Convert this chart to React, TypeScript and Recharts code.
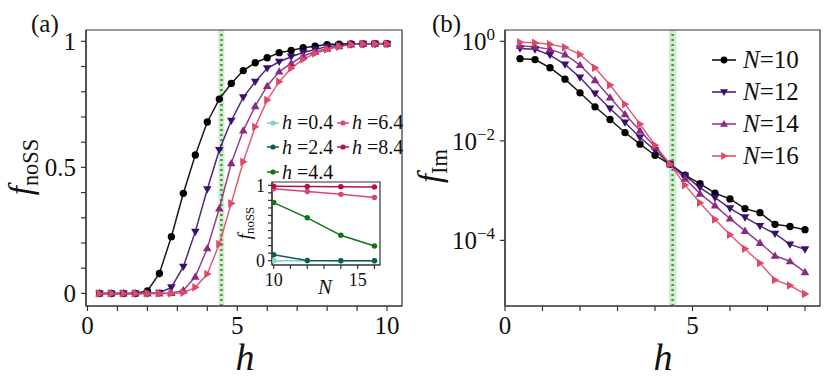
import { LineChart, Line, XAxis, YAxis, ReferenceArea, ReferenceLine } from "recharts";

const FONT = "Liberation Serif";

// panel (a): fraction of non-stationary states vs h
const hA = [0.4, 0.8, 1.2, 1.6, 2.0, 2.4, 2.8, 3.2, 3.6, 4.0, 4.4, 4.8, 5.2, 5.6, 6.0, 6.4, 6.8, 7.2, 7.6, 8.0, 8.4, 8.8, 9.2, 9.6, 10.0];
const noSS10 = [0, 0, 0, 0, 0.01, 0.079, 0.225, 0.397, 0.549, 0.68, 0.771, 0.833, 0.884, 0.915, 0.935, 0.955, 0.964, 0.975, 0.981, 0.987, 0.989, 0.99, 0.99, 0.991, 0.991];
const noSS12 = [0, 0, 0, 0, 0, 0.003, 0.024, 0.106, 0.245, 0.413, 0.569, 0.685, 0.778, 0.84, 0.893, 0.919, 0.939, 0.956, 0.968, 0.979, 0.985, 0.988, 0.99, 0.99, 0.99];
const noSS14 = [0, 0, 0, 0, 0, 0, 0.002, 0.012, 0.066, 0.179, 0.337, 0.516, 0.646, 0.743, 0.823, 0.88, 0.913, 0.942, 0.959, 0.971, 0.981, 0.988, 0.99, 0.99, 0.99];
const noSS16 = [0, 0, 0, 0, 0, 0, 0, 0.003, 0.024, 0.077, 0.196, 0.357, 0.522, 0.661, 0.767, 0.84, 0.893, 0.929, 0.952, 0.968, 0.979, 0.987, 0.989, 0.99, 0.99];

// panel (b): f_Im on log scale
const hB = [0.4, 0.8, 1.2, 1.6, 2.0, 2.4, 2.8, 3.2, 3.6, 4.0, 4.4, 4.8, 5.2, 5.6, 6.0, 6.4, 6.8, 7.2, 7.6, 8.0];
const im10 = [0.448, 0.43, 0.295, 0.174, 0.0925, 0.0484, 0.0269, 0.0147, 0.00857, 0.00514, 0.00339, 0.00204, 0.00138, 8.9e-4, 6.8e-4, 4.35e-4, 3.6e-4, 2.1e-4, 1.9e-4, 1.64e-4];
const im12 = [0.72, 0.69, 0.53, 0.344, 0.188, 0.0897, 0.0448, 0.0234, 0.0117, 0.0065, 0.0034, 0.002, 0.00115, 7.2e-4, 4.4e-4, 2.9e-4, 1.95e-4, 1.36e-4, 8.3e-5, 6.6e-5];
const im14 = [0.805, 0.78, 0.69, 0.547, 0.334, 0.166, 0.0745, 0.0344, 0.0159, 0.0076, 0.0034, 0.00174, 8.7e-4, 5.0e-4, 2.74e-4, 1.55e-4, 8.9e-5, 4.9e-5, 3.8e-5, 2.3e-5];
const im16 = [0.955, 0.94, 0.87, 0.757, 0.547, 0.295, 0.132, 0.0547, 0.0217, 0.0082, 0.0034, 0.00129, 5.7e-4, 2.64e-4, 1.3e-4, 6.8e-5, 3.5e-5, 1.6e-5, 1.24e-5, 8.4e-6];

const sizesN = [10, 12, 14, 16];
const seriesColors = ["#000000", "#3b0f70", "#8c2981", "#de4968"];
const insetH = [0.4, 2.4, 4.4, 6.4, 8.4];
const insetColors = ["#7fd1c1", "#0b5c55", "#137313", "#dc4468", "#b3104c"];

const bandLo = 4.37;
const bandHi = 4.57;
const bandMid = 4.47;

const dataA = hA.map((h, i) => ({ h, n10: noSS10[i], n12: noSS12[i], n14: noSS14[i], n16: noSS16[i] }));
const dataB = hB.map((h, i) => ({ h, n10: im10[i], n12: im12[i], n14: im14[i], n16: im16[i] }));
const allA = [noSS10, noSS12, noSS14, noSS16];
// inset: f_noSS vs N, taken from panel (a) at selected h
const dataInset = sizesN.map((N, j) => {
  const row: Record<string, number> = { N };
  insetH.forEach((h, k) => {
    row[`h${k}`] = allA[j][hA.indexOf(h)];
  });
  return row;
});

type Shape = "circle" | "down" | "up" | "right";
const shapes: Shape[] = ["circle", "down", "up", "right"];

function marker(shape: Shape, color: string, s: number) {
  return (p: any) => {
    const { cx, cy, index } = p;
    if (cx == null || cy == null) return <g key={`m${index}`} />;
    if (shape === "circle") return <circle key={`m${index}`} cx={cx} cy={cy} r={s * 0.85} fill={color} />;
    let pts = "";
    if (shape === "down") pts = `${cx - s},${cy - s * 0.7} ${cx + s},${cy - s * 0.7} ${cx},${cy + s}`;
    if (shape === "up") pts = `${cx - s},${cy + s * 0.7} ${cx + s},${cy + s * 0.7} ${cx},${cy - s}`;
    if (shape === "right") pts = `${cx - s * 0.7},${cy - s} ${cx - s * 0.7},${cy + s} ${cx + s},${cy}`;
    return <polygon key={`m${index}`} points={pts} fill={color} />;
  };
}

const tickStyle = { fontSize: 25, fill: "#111", fontFamily: FONT };
const axisLine = { stroke: "#333", strokeWidth: 1.2 };

const LogTick = (p: any) => {
  const e = Math.round(Math.log10(p.payload.value));
  return (
    <text x={p.x} y={p.y} textAnchor="end" dy="0.35em" fontSize={25} fill="#111" fontFamily={FONT}>
      10<tspan dy={-10} fontSize={17}>{e < 0 ? `\u2212${-e}` : `${e}`}</tspan>
    </text>
  );
};

function Abs({ x, y, center, rotate, size, children }: any) {
  return (
    <div
      style={{
        position: "absolute", left: x, top: y, fontSize: size, whiteSpace: "nowrap", lineHeight: 1,
        transform: `${center ? "translate(-50%,-50%)" : "translate(0,-50%)"}${rotate ? " rotate(-90deg)" : ""}`,
      }}
    >
      {children}
    </div>
  );
}

const FnoSS = () => (
  <span><i>f</i><sub style={{ fontSize: "0.68em", verticalAlign: "-0.25em" }}>noSS</sub></span>
);

export default function App() {
  const xTicksA = [0, 1, 2, 3, 4, 5, 6, 7, 8, 9, 10];
  const yTicksA = [0, 0.1, 0.2, 0.3, 0.4, 0.5, 0.6, 0.7, 0.8, 0.9, 1];
  const xTicksB = [0, 1, 2, 3, 4, 5, 6, 7, 8];
  const xTicksIn = [10, 11, 12, 13, 14, 15, 16];

  return (
    <div style={{ position: "absolute", left: 0, top: 0, width: 830, height: 384, background: "#fff", fontFamily: FONT, color: "#111" }}>
      {/* panel (a) */}
      <div style={{ position: "absolute", left: 0, top: 0 }}>
        <LineChart width={420} height={384} data={dataA} margin={{ top: 30, right: 18, left: 36, bottom: 38 }}>
          <XAxis dataKey="h" type="number" domain={[-0.05, 10.5]} ticks={xTicksA} interval={0}
            tickFormatter={(v) => (v % 5 === 0 ? `${v}` : "")} tickSize={5} tickMargin={5}
            tick={tickStyle} axisLine={axisLine} tickLine={axisLine} height={40} allowDataOverflow />
          <YAxis type="number" domain={[-0.05, 1.045]} ticks={yTicksA} interval={0}
            tickFormatter={(v) => (v === 0 ? "0" : v === 0.5 ? "0.5" : v === 1 ? "1" : "")}
            tickSize={5} tickMargin={5} tick={tickStyle} axisLine={axisLine} tickLine={axisLine} width={50} allowDataOverflow />
          <ReferenceArea x1={bandLo} x2={bandHi} y1={-0.05} y2={1.045} fill="#9fd39a" fillOpacity={0.45} stroke="none" />
          <ReferenceLine x={bandMid} stroke="#3a9a3a" strokeWidth={2.5} strokeDasharray="2 3" />
          {["n10", "n12", "n14", "n16"].map((k, i) => (
            <Line key={k} dataKey={k} type="linear" stroke={seriesColors[i]} strokeWidth={1.5} strokeOpacity={0.9}
              dot={marker(shapes[i], seriesColors[i], 4.3)} isAnimationActive={false} />
          ))}
          <ReferenceArea x1={-0.05} x2={10.5} y1={-0.05} y2={1.045} fill="none" stroke="#333" strokeWidth={1.2} ifOverflow="visible" />
        </LineChart>
      </div>

      {/* panel (b) */}
      <div style={{ position: "absolute", left: 420, top: 0 }}>
        <LineChart width={410} height={384} data={dataB} margin={{ top: 30, right: 10, left: 25, bottom: 38 }}>
          <XAxis dataKey="h" type="number" domain={[0, 8.4]} ticks={xTicksB} interval={0}
            tickFormatter={(v) => (v % 5 === 0 ? `${v}` : "")} tickSize={5} tickMargin={5}
            tick={tickStyle} axisLine={axisLine} tickLine={axisLine} height={40} allowDataOverflow />
          <YAxis type="number" scale="log" domain={[4.8e-6, 1.69]} ticks={[1e-4, 1e-2, 1]} interval={0}
            tickSize={5} tickMargin={5} tick={<LogTick />} axisLine={axisLine} tickLine={axisLine} width={60} allowDataOverflow />
          <ReferenceArea x1={bandLo} x2={bandHi} y1={4.8e-6} y2={1.69} fill="#9fd39a" fillOpacity={0.45} stroke="none" />
          <ReferenceLine x={bandMid} stroke="#3a9a3a" strokeWidth={2.5} strokeDasharray="2 3" />
          {["n10", "n12", "n14", "n16"].map((k, i) => (
            <Line key={k} dataKey={k} type="linear" stroke={seriesColors[i]} strokeWidth={1.5} strokeOpacity={0.9}
              dot={marker(shapes[i], seriesColors[i], 4.3)} isAnimationActive={false} />
          ))}
          <ReferenceArea x1={0} x2={8.4} y1={4.8e-6} y2={1.69} fill="none" stroke="#333" strokeWidth={1.2} ifOverflow="visible" />
        </LineChart>
      </div>

      {/* inset */}
      <div style={{ position: "absolute", left: 232, top: 175 }}>
        <LineChart width={155} height={120} data={dataInset} margin={{ top: 7, right: 7, left: 16, bottom: 12 }}>
          <XAxis dataKey="N" type="number" domain={[9.9, 16.33]} ticks={xTicksIn} interval={0}
            tickFormatter={(v) => (v === 10 || v === 15 ? `${v}` : "")} tickSize={4} tickMargin={4}
            tick={{ ...tickStyle, fontSize: 18 }} axisLine={axisLine} tickLine={axisLine} height={18} allowDataOverflow />
          <YAxis type="number" domain={[-0.057, 1.044]} ticks={yTicksA} interval={0}
            tickFormatter={(v) => (v === 0 ? "0" : v === 1 ? "1" : "")} tickSize={4} tickMargin={3}
            tick={{ ...tickStyle, fontSize: 18 }} axisLine={axisLine} tickLine={axisLine} width={24} allowDataOverflow />
          {insetH.map((h, k) => (
            <Line key={h} dataKey={`h${k}`} type="linear" stroke={insetColors[k]} strokeWidth={1.5}
              dot={marker("circle", insetColors[k], 3.2)} isAnimationActive={false} />
          ))}
          <ReferenceArea x1={9.9} x2={16.33} y1={-0.057} y2={1.044} fill="none" stroke="#333" strokeWidth={1.2} ifOverflow="visible" />
        </LineChart>
      </div>

      {/* text */}
      <Abs x={31} y={23} size={25}>(a)</Abs>
      <Abs x={432} y={23} size={25}>(b)</Abs>
      <Abs x={24} y={167} size={33} center rotate><FnoSS /></Abs>
      <Abs x={433} y={166} size={33} center rotate>
        <span><i>f</i><sub style={{ fontSize: "0.68em", verticalAlign: "-0.25em" }}>Im</sub></span>
      </Abs>
      <Abs x={245} y={357} size={38} center><i>h</i></Abs>
      <Abs x={663} y={357} size={38} center><i>h</i></Abs>
      <Abs x={246} y={223} size={19} center rotate><FnoSS /></Abs>
      <Abs x={325} y={287} size={21} center><i>N</i></Abs>

      {/* legend (a) */}
      {insetH.map((h, k) => {
        const col = k < 3 ? 0 : 1;
        const row = k < 3 ? k : k - 3;
        const x = col === 0 ? 267 : 337;
        const y = 122.7 + row * 24.7;
        return (
          <div key={h} style={{ position: "absolute", left: x, top: y - 11, height: 22, display: "flex", alignItems: "center", fontSize: 20 }}>
            <svg width={12} height={10} style={{ marginRight: 3 }}>
              <line x1={0} y1={5} x2={12} y2={5} stroke={insetColors[k]} strokeWidth={1.5} />
              <circle cx={6} cy={5} r={2.6} fill={insetColors[k]} />
            </svg>
            <span><i>h</i> ={h.toFixed(1)}</span>
          </div>
        );
      })}

      {/* legend (b) */}
      {sizesN.map((N, i) => {
        const y = 60 + i * 32;
        return (
          <div key={N} style={{ position: "absolute", left: 712, top: y - 14, height: 28, display: "flex", alignItems: "center", fontSize: 25 }}>
            <svg width={24} height={14} style={{ marginRight: 7 }}>
              <line x1={0} y1={7} x2={24} y2={7} stroke={seriesColors[i]} strokeWidth={1.5} />
              {marker(shapes[i], seriesColors[i], 4)({ cx: 12, cy: 7, index: 0 })}
            </svg>
            <span><i>N</i>={N}</span>
          </div>
        );
      })}
    </div>
  );
}
